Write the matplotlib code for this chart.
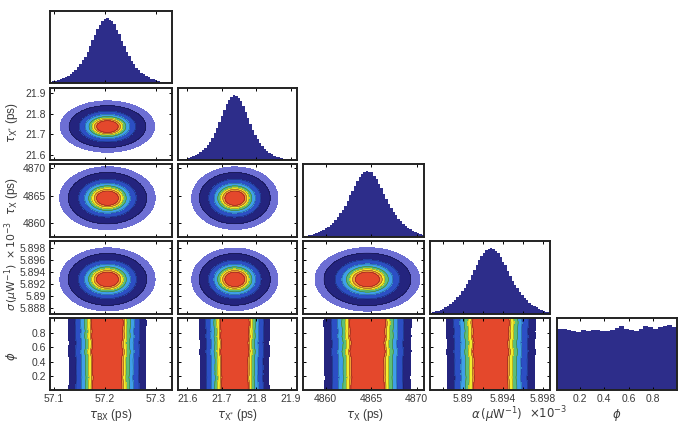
import numpy as np
import matplotlib.pyplot as plt

plt.rcParams['font.family'] = ['Liberation Sans', 'DejaVu Sans']
plt.rcParams['mathtext.fontset'] = 'dejavusans'

# marginal histograms (peak = 1)
hist_tau_bx = [0.018, 0.024, 0.031, 0.043, 0.054, 0.071, 0.088, 0.112, 0.133, 0.168,
               0.197, 0.243, 0.288, 0.352, 0.405, 0.484, 0.566, 0.664, 0.744, 0.836,
               0.896, 0.961, 0.985, 1.000, 0.978, 0.951, 0.902, 0.823, 0.757, 0.652,
               0.575, 0.473, 0.416, 0.344, 0.295, 0.236, 0.204, 0.161, 0.138, 0.107,
               0.092, 0.068, 0.057, 0.041, 0.033, 0.023, 0.019, 0.013, 0.011, 0.008]
hist_tau_xs = [0.007, 0.013, 0.017, 0.023, 0.032, 0.043, 0.058, 0.075, 0.099, 0.122,
               0.150, 0.185, 0.228, 0.280, 0.345, 0.410, 0.490, 0.580, 0.680, 0.770,
               0.860, 0.930, 0.975, 0.998, 0.990, 0.960, 0.905, 0.830, 0.745, 0.650,
               0.550, 0.455, 0.385, 0.320, 0.260, 0.215, 0.175, 0.140, 0.110, 0.087,
               0.068, 0.052, 0.040, 0.030, 0.022, 0.016, 0.012, 0.009, 0.007, 0.005]
hist_tau_x = [0.014, 0.019, 0.025, 0.034, 0.044, 0.056, 0.070, 0.088, 0.108, 0.131,
              0.153, 0.187, 0.218, 0.263, 0.302, 0.358, 0.408, 0.478, 0.546, 0.633,
              0.698, 0.783, 0.846, 0.914, 0.951, 0.988, 1.000, 0.981, 0.987, 0.925,
              0.884, 0.806, 0.745, 0.657, 0.584, 0.501, 0.443, 0.376, 0.328, 0.271,
              0.237, 0.196, 0.167, 0.137, 0.116, 0.092, 0.078, 0.061, 0.048, 0.035]
hist_alpha = [0.022, 0.030, 0.041, 0.052, 0.066, 0.083, 0.104, 0.124, 0.152, 0.178,
              0.213, 0.251, 0.293, 0.348, 0.392, 0.453, 0.522, 0.593, 0.676, 0.748,
              0.817, 0.884, 0.927, 0.973, 0.988, 1.000, 0.983, 0.963, 0.921, 0.868,
              0.797, 0.738, 0.651, 0.578, 0.503, 0.442, 0.391, 0.338, 0.282, 0.243,
              0.207, 0.172, 0.142, 0.121, 0.099, 0.081, 0.062, 0.048, 0.036, 0.025]
hist_phi = [0.934, 0.934, 0.926, 0.905, 0.893, 0.920, 0.915, 0.923, 0.920, 0.915,
            0.910, 0.926, 0.960, 0.980, 0.937, 0.932, 0.915, 0.943, 0.980, 0.965,
            0.948, 0.970, 0.990, 1.000, 0.976]

hists = [hist_tau_bx, hist_tau_xs, hist_tau_x, hist_alpha, hist_phi]

# axis ranges (x for columns, y for rows)
x_lims = [(57.092, 57.332), (21.573, 21.918), (4857.5, 4870.8), (5.8867, 5.8987), (0.01, 1.0)]
y_lims = [None, (21.576, 21.924), (4857.5, 4870.8), (5.8870, 5.8992), (0.01, 1.0)]

ticks = [[57.1, 57.2, 57.3], [21.6, 21.7, 21.8, 21.9], [4860, 4865, 4870],
         [5.888, 5.89, 5.892, 5.894, 5.896, 5.898], [0.2, 0.4, 0.6, 0.8]]
x_ticklabels = [["57.1", "57.2", "57.3"], ["21.6", "21.7", "21.8", "21.9"],
                ["4860", "4865", "4870"], ["", "5.89", "", "5.894", "", "5.898"],
                ["0.2", "0.4", "0.6", "0.8"]]
y_ticklabels = [None, ["21.6", "21.7", "21.8", "21.9"], ["4860", "4865", "4870"],
                ["5.888", "5.89", "5.892", "5.894", "5.896", "5.898"],
                ["0.2", "0.4", "0.6", "0.8"]]

# contour levels (fraction of peak density) and fill colours
levels_2d = [0.05, 0.115, 0.26, 0.40, 0.52, 0.63, 0.72, 0.80, 1.01]
colors_2d = ['#6d6fd4', '#24247e', '#2c4fc4', '#3f9fe8', '#5cbf78', '#f2ee2e', '#f0a032', '#e4482c']
levels_phi = [0.11, 0.19, 0.29, 0.38, 0.47, 0.56, 0.61, 1.01]
colors_phi = ['#24247e', '#2c4fc4', '#3f9fe8', '#5cbf78', '#f2ee2e', '#f0a032', '#e4482c']
hist_color = '#2d2d8a'
text_color = '#3a3a3a'

W, H = 689, 433
col_px = [(50, 172), (178, 297), (303, 424), (430, 550), (557, 677)]
row_px = [(11, 83), (88, 160), (164, 237), (241, 314), (318, 390)]

fig = plt.figure(figsize=(W / 100, H / 100), dpi=100)


def add_panel(r, c):
    l, rt = col_px[c]
    t, b = row_px[r]
    ax = fig.add_axes([l / W, 1 - b / H, (rt - l) / W, (b - t) / H])
    for s in ax.spines.values():
        s.set_linewidth(1.4)
        s.set_color('#222222')
    ax.tick_params(direction='in', length=2.5, width=0.7, top=True, right=True,
                   labelsize=7.5, labelcolor=text_color, pad=3)
    return ax


def bins_for(i):
    h = np.asarray(hists[i], float)
    lo, hi = x_lims[i]
    edges = np.linspace(lo, hi, len(h) + 1)
    centers = (edges[:-1] + edges[1:]) / 2
    return edges, centers, h


def profile(i, rho):
    # radial profile taken from marginal i, rho in units of its spread
    _, cen, h = bins_for(i)
    m = np.sum(h * cen) / h.sum()
    s = np.sqrt(np.sum(h * (cen - m) ** 2) / h.sum())
    left = np.interp(m - rho * s, cen, h, left=0, right=0)
    right = np.interp(m + rho * s, cen, h, left=0, right=0)
    return m, s, 0.5 * (left + right)


n = len(hists)
for r in range(n):
    for c in range(r + 1):
        ax = add_panel(r, c)
        ex, cx, hx = bins_for(c)
        if r == c:
            ax.stairs(hx, ex, fill=True, color=hist_color)
            ax.set_ylim(0, 1.11)
            ax.set_yticks([])
        else:
            if r == n - 1:
                # flat phi: bands follow the product of the marginals
                _, cy, hy = bins_for(r)
                gx = np.r_[x_lims[c][0], cx, x_lims[c][1]]
                gy = np.r_[y_lims[r][0], cy, y_lims[r][1]]
                z = np.outer(np.r_[hy[0], hy, hy[-1]], np.r_[hx[0], hx, hx[-1]])
                lev, cols = levels_phi, colors_phi
            else:
                gx = np.linspace(*x_lims[c], 240)
                gy = np.linspace(*y_lims[r], 160)
                X, Y = np.meshgrid(gx, gy)
                mx, sx, _ = profile(c, np.zeros(1))
                my, sy, _ = profile(r, np.zeros(1))
                rho = np.hypot((X - mx) / sx, (Y - my) / sy)
                z = 0.5 * (profile(c, rho)[2] + profile(r, rho)[2])
                lev, cols = levels_2d, colors_2d
            z = z / z.max()
            ax.contourf(gx, gy, z, levels=lev, colors=cols)
            ax.contour(gx, gy, z, levels=lev[1:-1], colors='k', linewidths=0.35, alpha=0.5)
            ax.set_ylim(*y_lims[r])
            ax.set_yticks(ticks[r])
            if c == 0:
                ax.set_yticklabels(y_ticklabels[r])
            else:
                ax.set_yticklabels([])
        ax.set_xlim(*x_lims[c])
        ax.set_xticks(ticks[c])
        if r == n - 1:
            ax.set_xticklabels(x_ticklabels[c])
        else:
            ax.set_xticklabels([])


def fx(px):
    return px / W


def fy(px):
    return 1 - px / H


lab = dict(color=text_color, fontsize=8.5, ha='center', va='center')
fig.text(fx(111), fy(415), r'$\tau_{\mathrm{BX}}$ (ps)', **lab)
fig.text(fx(238), fy(415), r'$\tau_{\mathrm{X}^{*}}$ (ps)', **lab)
fig.text(fx(365), fy(415), r'$\tau_{\mathrm{X}}$ (ps)', **lab)
fig.text(fx(497), fy(415), r'$\alpha\,(\mu\mathrm{W}^{-1})$', **lab)
fig.text(fx(548), fy(413), r'$\times10^{-3}$', **lab)
fig.text(fx(617), fy(415), r'$\phi$', **lab)

fig.text(fx(12), fy(122), r'$\tau_{\mathrm{X}^{*}}$ (ps)', rotation=90, **lab)
fig.text(fx(12), fy(196), r'$\tau_{\mathrm{X}}$ (ps)', rotation=90, **lab)
fig.text(fx(12), fy(266), r'$\sigma\,(\mu\mathrm{W}^{-1})\ \times10^{-3}$', rotation=90,
         color=text_color, fontsize=7.8, ha='center', va='center')
fig.text(fx(12), fy(356), r'$\phi$', rotation=90, **lab)

fig.savefig('out.png', dpi=100)
